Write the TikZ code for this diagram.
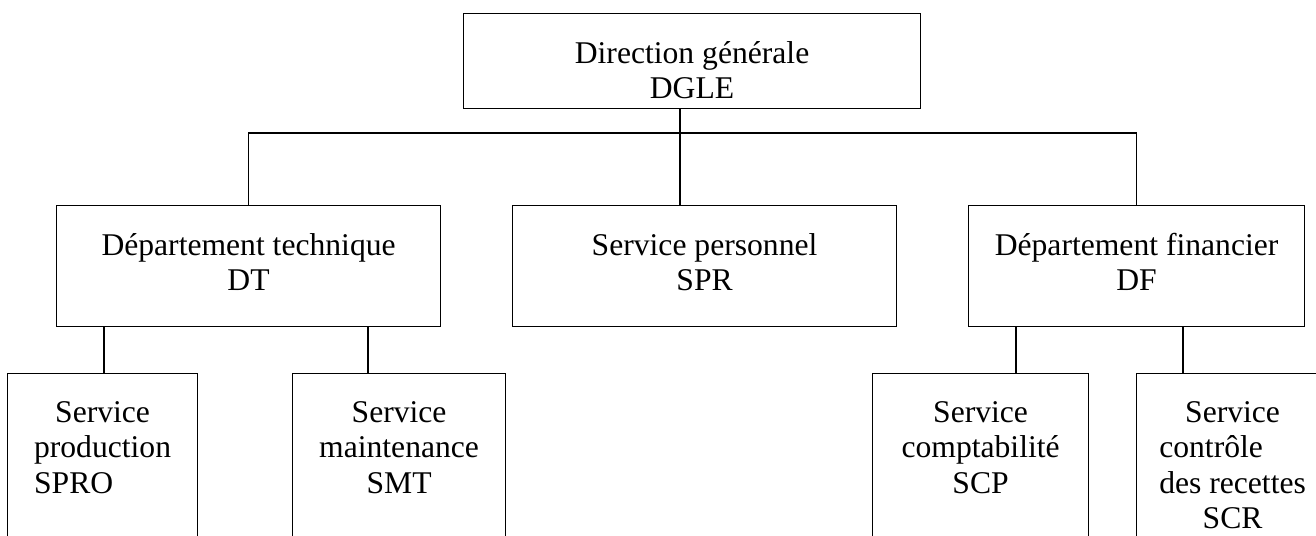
\documentclass[tikz,border=0pt]{standalone}
\usepackage{fontspec}
\setmainfont{Liberation Serif}

\tikzset{
  unit/.style={draw, line width=0.7pt, inner sep=0pt, anchor=north west,
    font=\fontsize{18pt}{20.2pt}\selectfont},
  link/.style={line width=0.7pt}
}
% box of given width and height, text at the top
\newcommand{\unittext}[3]{\parbox[t][#2][t]{#1}{\centering\vspace*{0.55cm}#3}}

\begin{document}
\begin{tikzpicture}[x=0.02cm, y=-0.02cm]
\clip (0,0) rectangle (1316,536);

% Direction
\node[unit] (dgle) at (463,13) {\unittext{9.14cm}{1.9cm}{Direction générale\\DGLE}};

% Departements
\node[unit] (dt)  at (56,205)  {\unittext{7.68cm}{2.42cm}{Département technique\\DT}};
\node[unit] (spr) at (512,205) {\unittext{7.68cm}{2.42cm}{Service personnel\\SPR}};
\node[unit] (df)  at (968,205) {\unittext{6.72cm}{2.42cm}{Département financier\\DF}};

% Services
\node[unit] (spro) at (7,373)    {\unittext{3.8cm}{4cm}{Service\\production\\\leavevmode\rlap{SPRO}\phantom{production}}};
\node[unit] (smt)  at (292,373)  {\unittext{4.26cm}{4cm}{Service\\maintenance\\SMT}};
\node[unit] (scp)  at (872,373)  {\unittext{4.32cm}{4cm}{Service\\comptabilité\\SCP}};
\node[unit] (scr)  at (1136,373) {\unittext{3.84cm}{4cm}{Service\\\leavevmode\rlap{contrôle}\phantom{des recettes}\\des recettes\\SCR}};

% Links
\coordinate (bus)  at (680,133);
\coordinate (dt-l) at (104,0);
\coordinate (dt-r) at (368,0);
\coordinate (df-l) at (1016,0);
\coordinate (df-r) at (1183,0);
\draw[link] (dgle.south -| bus) -- (spr.north -| bus);
\draw[link] (dt.north) |- (bus) -| (df.north);
\draw[link] (dt.south -| dt-l) -- (spro.north -| dt-l);
\draw[link] (dt.south -| dt-r) -- (smt.north -| dt-r);
\draw[link] (df.south -| df-l) -- (scp.north -| df-l);
\draw[link] (df.south -| df-r) -- (scr.north -| df-r);

\end{tikzpicture}
\end{document}
